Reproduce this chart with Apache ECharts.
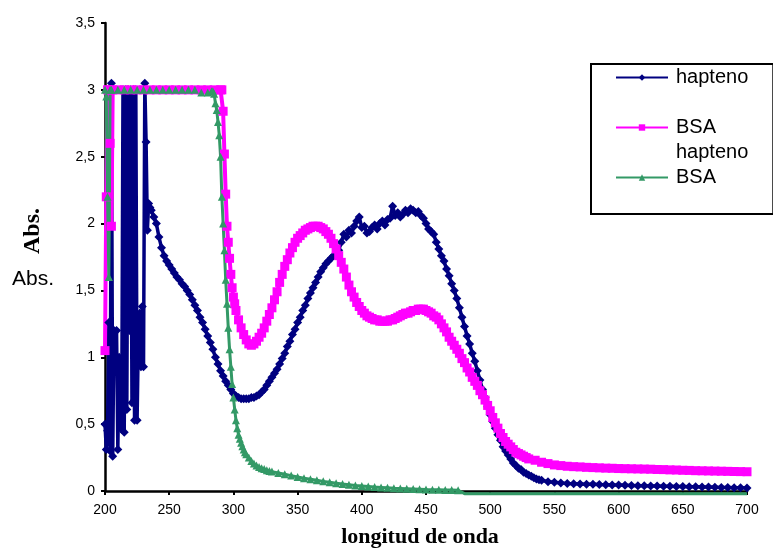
<!DOCTYPE html>
<html>
<head>
<meta charset="utf-8">
<script src="https://cdn.jsdelivr.net/npm/echarts/dist/echarts.min.js"></script>
</head>
<body style="margin:0">
<div id="main" style="width:773px;height:549px"></div>
<script>
// [longitud de onda (nm), absorbancia]
var hapteno = [
  [200,0.50],[201,0.31],[202,0.45],[203,1.26],[204,0.30],[205,3.05],[206,0.26],[207,1.20],[208,0.90],[209,1.20],
  [210,0.31],[211,1.00],[212,0.75],[213,0.46],[214,3.00],[215,0.44],[216,3.00],[217,0.61],[218,3.00],[219,1.20],
  [220,3.00],[221,0.66],[222,3.00],[223,0.53],[224,3.00],[225,0.53],[226,1.16],[227,1.33],[228,0.93],[229,1.38],
  [230,0.93],[231,3.05],[232,2.61],[233,1.95],[234,2.15],[235,2.12],
  [236,2.10],[238,2.05],[240,2.00],[242,1.90],[244,1.82],[246,1.76],[248,1.72],[250,1.69],[252,1.66],[254,1.63],
  [256,1.60],[258,1.58],[260,1.55],[262,1.53],[264,1.50],[266,1.47],[268,1.43],[270,1.39],[272,1.35],[274,1.30],
  [276,1.26],[278,1.21],[280,1.16],[282,1.11],[284,1.06],[286,1.00],[288,0.95],[290,0.90],[292,0.86],[294,0.82],
  [296,0.79],[298,0.76],[300,0.73],[302,0.71],[304,0.70],[306,0.69],[308,0.69],[310,0.69],[312,0.69],[314,0.70],
  [316,0.70],[318,0.71],[320,0.72],[322,0.74],[324,0.76],[326,0.79],[328,0.82],[330,0.85],[332,0.88],[334,0.91],
  [336,0.95],[338,0.99],[340,1.03],[342,1.08],[344,1.12],[346,1.17],[348,1.21],[350,1.26],[352,1.30],[354,1.35],
  [356,1.39],[358,1.44],[360,1.48],[362,1.52],[364,1.56],[366,1.60],[368,1.64],[370,1.67],[372,1.70],[374,1.72],
  [376,1.74],[378,1.76],[380,1.78],[382,1.80],[384,1.86],[386,1.92],[388,1.90],[390,1.95],[392,1.93],[394,1.98],
  [396,2.02],[398,2.05],[400,1.97],[402,1.98],[404,1.93],[406,1.94],[408,1.97],[410,1.99],[412,1.96],[414,2.00],
  [416,2.02],[418,1.99],[420,2.03],[422,2.04],[424,2.13],[426,2.06],[428,2.08],[430,2.05],[432,2.07],[434,2.10],
  [436,2.08],[438,2.11],[440,2.10],[442,2.08],[444,2.09],[446,2.06],[448,2.04],[450,2.00],[452,1.96],[454,1.94],
  [456,1.92],[458,1.86],[460,1.81],[462,1.76],[464,1.72],[466,1.66],[468,1.61],[470,1.55],[472,1.50],[474,1.44],
  [476,1.37],[478,1.30],[480,1.23],[482,1.16],[484,1.10],[486,1.03],[488,0.97],[490,0.90],[492,0.83],[494,0.76],
  [496,0.70],[498,0.63],[500,0.57],[502,0.52],[504,0.47],[506,0.42],[508,0.38],[510,0.33],[512,0.30],[514,0.27],
  [516,0.24],[518,0.21],[520,0.19],[522,0.17],[524,0.16],[526,0.14],[528,0.13],[530,0.12],[532,0.11],[534,0.10],
  [536,0.09],[538,0.085],[540,0.08],[545,0.07],[550,0.065],[555,0.06],[560,0.057],[565,0.055],[570,0.053],[575,0.051],
  [580,0.05],[585,0.048],[590,0.047],[595,0.045],[600,0.044],[605,0.043],[610,0.042],[615,0.04],[620,0.039],[625,0.038],
  [630,0.037],[635,0.036],[640,0.035],[645,0.034],[650,0.033],[655,0.032],[660,0.031],[665,0.03],[670,0.029],[675,0.028],
  [680,0.027],[685,0.026],[690,0.025],[695,0.024],[700,0.023]
];

var bsaHapteno = [
  [200,1.05],[201,2.20],[202,3.00],[203,3.00],[204,2.60],[205,1.98],[206,3.00],
  [210,3.00],[215,3.00],[220,3.00],[225,3.00],[230,3.00],[235,3.00],[240,3.00],[245,3.00],[250,3.00],[255,3.00],
  [260,3.00],[265,3.00],[270,3.00],[275,3.00],[280,3.00],[285,3.00],[290,3.00],
  [291,3.00],[292,2.84],[293,2.52],[294,2.22],[295,1.98],[296,1.86],[297,1.74],[298,1.62],[299,1.52],[300,1.45],
  [301,1.40],[302,1.35],[304,1.28],[306,1.22],[308,1.17],[310,1.13],[312,1.10],[314,1.09],[316,1.10],[318,1.12],
  [320,1.15],[322,1.18],[324,1.22],[326,1.27],[328,1.32],[330,1.37],[332,1.43],[334,1.49],[336,1.56],[338,1.62],
  [340,1.68],[342,1.73],[344,1.78],[346,1.82],[348,1.86],[350,1.89],[352,1.91],[354,1.93],[356,1.95],[358,1.96],
  [360,1.97],[362,1.98],[364,1.98],[366,1.98],[368,1.97],[370,1.96],[372,1.94],[374,1.92],[376,1.89],[378,1.85],
  [380,1.81],[382,1.76],[384,1.71],[386,1.66],[388,1.60],[390,1.54],[392,1.49],[394,1.45],[396,1.41],[398,1.38],
  [400,1.35],[402,1.33],[404,1.31],[406,1.30],[408,1.29],[410,1.28],[412,1.28],[414,1.27],[416,1.27],[418,1.27],
  [420,1.27],[422,1.28],[424,1.28],[426,1.29],[428,1.30],[430,1.31],[432,1.32],[434,1.33],[436,1.33],[438,1.34],
  [440,1.35],[442,1.35],[444,1.36],[446,1.36],[448,1.36],[450,1.35],[452,1.34],[454,1.33],[456,1.31],[458,1.30],
  [460,1.28],[462,1.25],[464,1.22],[466,1.19],[468,1.15],[470,1.12],[472,1.09],[474,1.06],[476,1.03],[478,0.99],
  [480,0.96],[482,0.92],[484,0.89],[486,0.85],[488,0.82],[490,0.79],[492,0.75],[494,0.72],[496,0.68],[498,0.64],
  [500,0.60],[502,0.55],[504,0.51],[506,0.47],[508,0.43],[510,0.40],[512,0.37],[514,0.35],[516,0.33],[518,0.31],
  [520,0.29],[522,0.28],[524,0.27],[526,0.26],[528,0.25],[530,0.24],[535,0.23],[540,0.215],[545,0.205],[550,0.195],
  [555,0.19],[560,0.185],[565,0.182],[570,0.18],[575,0.177],[580,0.175],[585,0.173],[590,0.171],[595,0.17],[600,0.168],
  [605,0.167],[610,0.166],[615,0.165],[620,0.164],[625,0.163],[630,0.161],[635,0.16],[640,0.158],[645,0.157],[650,0.155],
  [655,0.154],[660,0.152],[665,0.151],[670,0.15],[675,0.149],[680,0.148],[685,0.147],[690,0.146],[695,0.145],[700,0.144]
];

var bsa = [
  [200,3.00],[201,2.95],[202,2.20],[203,1.60],[204,3.00],[205,3.00],
  [210,3.00],[215,3.00],[220,3.00],[225,3.00],[230,3.00],[235,3.00],[240,3.00],[245,3.00],[250,3.00],[255,3.00],
  [260,3.00],[265,3.00],[270,3.00],[275,2.98],[280,2.98],[283,2.99],[284,2.99],[285,2.97],[286,2.90],[287,2.85],
  [288,2.76],[289,2.66],[290,2.50],[291,2.20],[292,2.00],[293,1.80],[294,1.58],[295,1.40],[296,1.22],[297,1.06],
  [298,0.93],[299,0.80],[300,0.70],[301,0.61],[302,0.53],[303,0.47],[304,0.42],[305,0.39],[306,0.36],[307,0.335],
  [308,0.31],[309,0.29],[310,0.275],[312,0.25],[314,0.225],[316,0.205],[318,0.19],[320,0.18],[322,0.17],[324,0.165],
  [326,0.155],[328,0.15],[330,0.145],[335,0.135],[340,0.125],[345,0.115],[350,0.105],[355,0.095],[360,0.088],[365,0.08],
  [370,0.072],[375,0.065],[380,0.058],[385,0.052],[390,0.047],[395,0.042],[400,0.038],[405,0.034],[410,0.03],[415,0.027],
  [420,0.024],[425,0.021],[430,0.019],[435,0.017],[440,0.015],[445,0.013],[450,0.011],[455,0.01],[460,0.009],[465,0.008],
  [470,0.007],[475,0.006],[480,-0.02],[500,-0.02],[550,-0.02],[600,-0.02],[650,-0.02],[700,-0.02]
];

var xTicks = { min: 200, max: 700, step: 50 };
var yTicks = { min: 0, max: 3.5, step: 0.5 };

var chart = echarts.init(document.getElementById('main'));

var option = {
  animation: false,
  backgroundColor: '#fff',
  grid: { left: 105, right: 26, top: 23, bottom: 58 },
  xAxis: {
    type: 'value',
    min: xTicks.min, max: xTicks.max, interval: xTicks.step,
    axisLine: { lineStyle: { color: '#000', width: 2.5 } },
    axisTick: { show: true, length: 4, lineStyle: { color: '#000', width: 2 } },
    axisLabel: { color: '#000', fontSize: 14, fontFamily: 'Liberation Sans, Arial', margin: 12 },
    splitLine: { show: false }
  },
  yAxis: {
    type: 'value',
    min: yTicks.min, max: yTicks.max, interval: yTicks.step,
    axisLine: { show: true, lineStyle: { color: '#000', width: 2.5 } },
    axisTick: { show: true, length: 4, lineStyle: { color: '#000', width: 2 } },
    axisLabel: {
      color: '#000', fontSize: 14, fontFamily: 'Liberation Sans, Arial', margin: 10,
      formatter: function (v) { return String(v).replace('.', ','); }
    },
    splitLine: { show: false }
  },
  legend: {
    orient: 'vertical',
    left: 591, top: 64,
    padding: [1, 25, 24, 24],
    itemGap: 0,
    itemWidth: 52, itemHeight: 8,
    borderColor: '#000', borderWidth: 2,
    textStyle: { fontSize: 20, lineHeight: 25, fontFamily: 'Liberation Sans, Arial', color: '#000', padding: [0, 0, 0, 3] },
    formatter: function (name) {
      // el nombre largo ocupa dos renglones, como en la hoja original
      return name === 'BSA hapteno' ? '\nBSA\nhapteno' : name;
    },
    data: ['hapteno', 'BSA hapteno', 'BSA']
  },
  graphic: [
    { type: 'text', x: 33, y: 231, rotation: Math.PI / 2,
      style: { text: 'Abs.', fontSize: 24, fontWeight: 'bold', fontFamily: 'Liberation Serif, Times New Roman', fill: '#000', align: 'center', verticalAlign: 'middle' } },
    { type: 'text', x: 33, y: 279,
      style: { text: 'Abs.', fontSize: 21, fontFamily: 'Liberation Sans, Arial', fill: '#000', align: 'center', verticalAlign: 'middle' } },
    { type: 'text', x: 420, y: 537,
      style: { text: 'longitud de onda', fontSize: 22, fontWeight: 'bold', fontFamily: 'Liberation Serif, Times New Roman', fill: '#000', align: 'center', verticalAlign: 'middle' } }
  ],
  series: [
    {
      name: 'hapteno', type: 'line', data: hapteno,
      symbol: 'diamond', symbolSize: 9, showAllSymbol: true,
      color: '#000080',
      lineStyle: { color: '#000080', width: 3.5 },
      itemStyle: { color: '#000080' }
    },
    {
      name: 'BSA hapteno', type: 'line', data: bsaHapteno,
      symbol: 'rect', symbolSize: 9, showAllSymbol: true,
      color: '#ff00ff',
      lineStyle: { color: '#ff00ff', width: 4 },
      itemStyle: { color: '#ff00ff' }
    },
    {
      name: 'BSA', type: 'line', data: bsa, clip: false,
      symbol: 'triangle', showAllSymbol: true,
      symbolSize: function (v) { return v[0] > 475 ? 0 : 8; },
      color: '#339966',
      lineStyle: { color: '#339966', width: 3 },
      itemStyle: { color: '#339966' }
    }
  ]
};

chart.setOption(option);
</script>
</body>
</html>
